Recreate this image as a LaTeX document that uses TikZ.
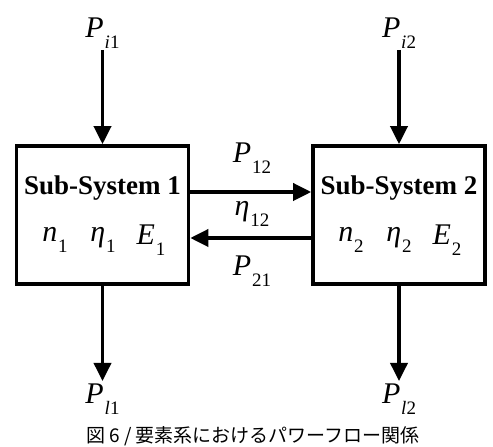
\documentclass[tikz,border=0pt]{standalone}
\usepackage{fontspec}
\setmainfont{Liberation Serif}
\newfontfamily\cjk{Noto Sans CJK JP}
\usetikzlibrary{arrows.meta,positioning}
\newcommand{\symsub}[2]{\textit{#1}\kern0.03em\raisebox{-0.36em}{\fontsize{19}{19}\selectfont #2}}

\begin{document}
\begin{tikzpicture}[
    x=1pt, y=1pt,
    node distance=10pt,
    subsys/.style={rectangle, draw, line width=3.6pt, minimum width=172pt, minimum height=138pt, inner sep=0pt},
    title/.style={font=\fontsize{27}{27}\selectfont\bfseries},
    var/.style={font=\fontsize{30}{30}\selectfont, inner sep=1pt},
    arrow/.style={-{Triangle[length=18pt,width=17pt]}, line width=3.6pt}
]
    \useasboundingbox (0,0) rectangle (493,447);

    \node[subsys] (ss1) at (102.5,232) {};
    \node[subsys] (ss2) at (399,232) {};

    \node[title] (t1) at (102.5,259) {Sub-System 1};
    \node[title] (t2) at (399,259) {Sub-System 2};
    \node[var] (n1) at (55,207) {\symsub{n}{1}};
    \node[var] (eta1) at (103,207) {\symsub{η}{1}};
    \node[var] (e1) at (151,207) {\symsub{E}{1}};
    \node[var] (n2) at (351,207) {\symsub{n}{2}};
    \node[var] (eta2) at (399,207) {\symsub{η}{2}};
    \node[var] (e2) at (447,207) {\symsub{E}{2}};

    % inputs and losses
    \coordinate (in1) at (102.5,397);
    \coordinate (in2) at (399,397);
    \coordinate (out1) at (102.5,66);
    \coordinate (out2) at (399,66);
    \node[var, above=0pt of in1] (pin1) {\symsub{P}{\textit{i}1}};
    \node[var, above=0pt of in2] (pin2) {\symsub{P}{\textit{i}2}};
    \node[var, below=2pt of out1] (pl1) {\symsub{P}{\textit{l}1}};
    \node[var, below=2pt of out2] (pl2) {\symsub{P}{\textit{l}2}};

    \draw[arrow] (in1) -- (ss1.north);
    \draw[arrow] (in2) -- (ss2.north);
    \draw[arrow] (ss1.south) -- (out1);
    \draw[arrow] (ss2.south) -- (out2);

    % power flow between sub-systems
    \draw[arrow] (ss1.east |- 0,255) -- (ss2.west |- 0,255);
    \draw[arrow] (ss2.west |- 0,209) -- (ss1.east |- 0,209);
    \node[var] (p12) at (252,289) {\symsub{P}{12}};
    \node[var] (eta12) at (252,233) {\symsub{η}{12}};
    \node[var] (p21) at (252,176) {\symsub{P}{21}};

    \node[anchor=south, font=\cjk\fontsize{19}{19}\selectfont, inner sep=1pt] (cap) at (253,0) {図 6 / 要素系におけるパワーフロー関係};
\end{tikzpicture}
\end{document}
